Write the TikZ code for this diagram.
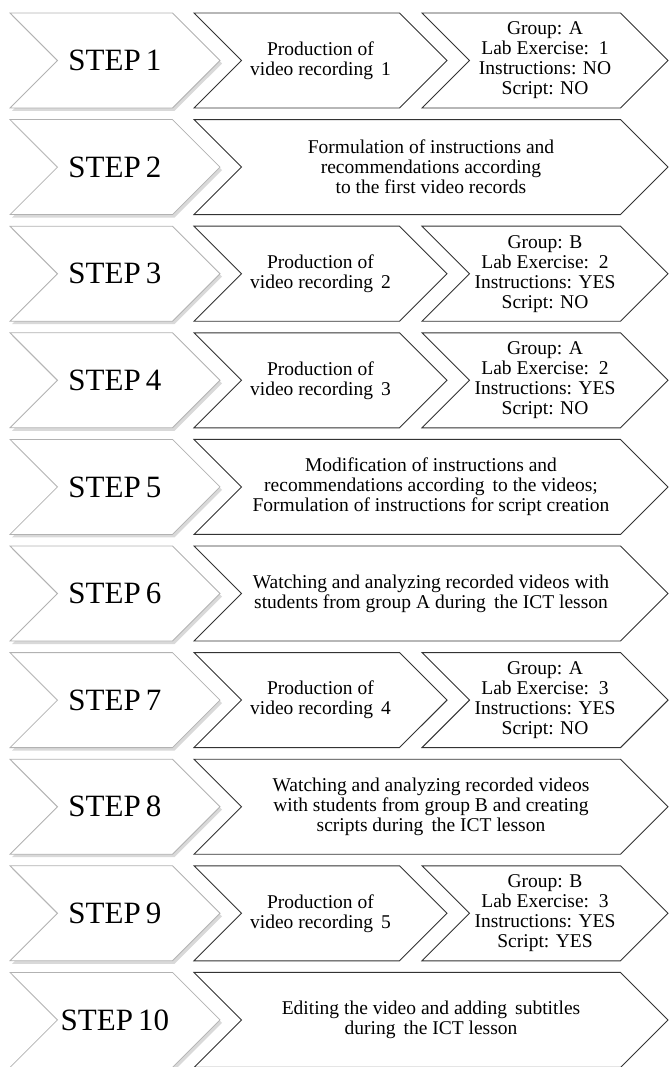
\documentclass[tikz,border=0pt]{standalone}
\usepackage{fontspec}
\setmainfont{Liberation Serif}
\usetikzlibrary{shapes.symbols,shadows}

\tikzset{
  chev/.style={signal, signal to=east, signal from=west, signal pointer angle=90,
    minimum height=95pt, inner sep=0pt, align=center, draw=black!80, line width=0.9pt,
    fill=white, text=black, font=\rmfamily\fontsize{19.5}{20}\selectfont},
  stepbox/.style={chev, minimum width=210pt, draw=black!30, line width=0.8pt,
    font=\rmfamily\fontsize{31}{32}\selectfont,
    drop shadow={shadow xshift=2pt, shadow yshift=-3pt, opacity=0.3}},
  recbox/.style={chev, minimum width=253pt},
  infobox/.style={chev, minimum width=246pt},
  widebox/.style={chev, minimum width=474pt},
}

\begin{document}
\begin{tikzpicture}[x=1pt,y=-1pt]
\useasboundingbox (0,0) rectangle (670,1067);
\foreach \i in {1,...,10}
  \node[stepbox] (step\i) at (115,{60.5+(\i-1)*106.6}) {STEP\,\i};

\node[recbox] (rec1) at ([xshift=205.5pt]step1.center) {Production of\\video recording\, 1};
\node[infobox] (info1) at ([xshift=430pt]step1.center) {Group: A\\Lab Exercise:\, 1\\Instructions: NO\\Script: NO};

\node[widebox] (task2) at ([xshift=316pt]step2.center) {Formulation of instructions and\\recommendations according\\to the first video records};

\node[recbox] (rec2) at ([xshift=205.5pt]step3.center) {Production of\\video recording\, 2};
\node[infobox] (info3) at ([xshift=430pt]step3.center) {Group: B\\Lab Exercise:\, 2\\Instructions: YES\\Script: NO};

\node[recbox] (rec3) at ([xshift=205.5pt]step4.center) {Production of\\video recording\, 3};
\node[infobox] (info4) at ([xshift=430pt]step4.center) {Group: A\\Lab Exercise:\, 2\\Instructions: YES\\Script: NO};

\node[widebox] (task5) at ([xshift=316pt]step5.center) {Modification of instructions and\\recommendations according\, to the videos;\\Formulation of instructions for script creation};

\node[widebox] (task6) at ([xshift=316pt]step6.center) {Watching and analyzing recorded videos with\\students from group A during\, the ICT lesson};

\node[recbox] (rec4) at ([xshift=205.5pt]step7.center) {Production of\\video recording\, 4};
\node[infobox] (info7) at ([xshift=430pt]step7.center) {Group: A\\Lab Exercise:\, 3\\Instructions: YES\\Script: NO};

\node[widebox] (task8) at ([xshift=316pt]step8.center) {Watching and analyzing recorded videos\\with students from group B and creating\\scripts during\, the ICT lesson};

\node[recbox] (rec5) at ([xshift=205.5pt]step9.center) {Production of\\video recording\, 5};
\node[infobox] (info9) at ([xshift=430pt]step9.center) {Group: B\\Lab Exercise:\, 3\\Instructions: YES\\Script: YES};

\node[widebox] (task10) at ([xshift=316pt]step10.center) {Editing the video and adding\, subtitles\\during\, the ICT lesson};
\end{tikzpicture}
\end{document}
